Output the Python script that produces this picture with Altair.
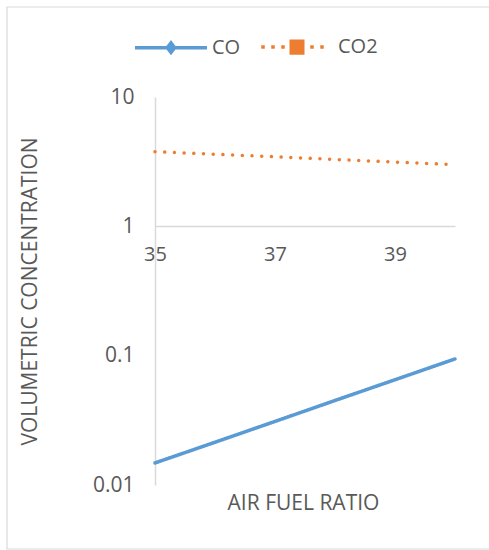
import altair as alt
import pandas as pd

# Air/fuel ratio sweep and measured gas concentrations (volume %)
air_fuel_ratio = [35, 36, 37, 38, 39, 40]
co_values = [0.0148, 0.0214, 0.031, 0.045, 0.0651, 0.0943]
co2_values = [3.78, 3.61, 3.45, 3.29, 3.14, 3.00]

series_names = ["CO", "CO2"]
series_colors = ["#5b9bd5", "#ed7d31"]
y_ticks = [0.01, 0.1, 1, 10]
x_ticks = [35, 37, 39]

rows = []
for name, vals in zip(series_names, [co_values, co2_values]):
    for x, v in zip(air_fuel_ratio, vals):
        rows.append({"ratio": x, "value": v, "gas": name})
df = pd.DataFrame(rows)

FONT = "Open Sans"
TEXT = "#595959"
AXIS = "#d9d9d9"

# legend glyphs: line with a diamond, dotted line with a square
co_symbol = "M-1,0H1M-0.1,0L0,-0.13L0.1,0L0,0.13Z"
co2_symbol = ("M-0.993,0H-0.896M-0.715,0H-0.618M-0.437,0H-0.34"
              "M0.368,0H0.465M0.646,0H0.743"
              "M-0.16,-0.16H0.16V0.16H-0.16Z")

x_enc = alt.X(
    "ratio:Q",
    scale=alt.Scale(domain=[35, 40], nice=False, zero=False),
    axis=alt.Axis(
        values=x_ticks, ticks=False, grid=False, offset=-259,
        domainColor=AXIS, domainWidth=1.5, labelFlush=False,
        labelFontSize=20, labelPadding=18,
        title="AIR FUEL RATIO", titleX=148, titleY=277,
        titleBaseline="middle", titleAlign="center",
    ),
)
y_enc = alt.Y(
    "value:Q",
    scale=alt.Scale(type="log", domain=[0.01, 10], nice=False),
    axis=alt.Axis(
        values=y_ticks, format="~g", ticks=False, grid=False,
        domainColor=AXIS, domainWidth=1.5,
        labelFontSize=21, labelPadding=21,
        title="VOLUMETRIC CONCENTRATION", titleX=-125, titleY=194,
        titleAngle=270, titleBaseline="middle", titleAlign="center",
    ),
)

series_legend = alt.Legend(
    title=None, orient="none", legendX=-22, legendY=-88,
    direction="horizontal", padding=0,
    symbolSize=5184, symbolStrokeWidth=3.5, symbolOpacity=1,
    labelFont=FONT, labelFontSize=20, labelColor=TEXT,
    labelOffset=3, columnPadding=13,
)

frame = alt.Chart(alt.Data(values=[{"f": 1}])).mark_rect(
    fillOpacity=0, stroke=AXIS, strokeWidth=1.2
).encode(
    x=alt.value(-148), x2=alt.value(400), y=alt.value(-90), y2=alt.value(452)
)

# series lines; their scales take the domain from the data
lines = alt.Chart(df).mark_line(strokeWidth=3.5, strokeCap="round").encode(
    x=x_enc,
    y=y_enc,
    color=alt.Color("gas:N", scale=alt.Scale(range=series_colors), legend=None),
    strokeDash=alt.StrokeDash(
        "gas:N",
        scale=alt.Scale(range=[[1, 0], [0.01, 9.7]]),
        legend=None,
    ),
)

# zero-size points that only carry the legend glyphs
keys = alt.Chart(df).mark_point(filled=True, size=0, opacity=1, strokeWidth=3.5).encode(
    x=x_enc,
    y=y_enc,
    fill=alt.Fill("gas:N", scale=alt.Scale(domain=series_names, range=series_colors), legend=series_legend),
    stroke=alt.Stroke("gas:N", scale=alt.Scale(domain=series_names, range=series_colors), legend=series_legend),
    shape=alt.Shape("gas:N", scale=alt.Scale(domain=series_names, range=[co_symbol, co2_symbol]), legend=series_legend),
)

chart = (
    alt.layer(frame, lines, keys)
    .properties(
        width=300, height=388, autosize="none",
        padding={"left": 155, "top": 97, "right": 34, "bottom": 65},
        background="white",
    )
    .configure_view(strokeWidth=0)
    .configure_axis(
        labelFont=FONT, labelColor=TEXT, titleFont=FONT, titleColor=TEXT,
        titleFontSize=21, titleFontWeight="normal",
    )
)

chart.save("out.html", embed_options={"renderer": "svg", "actions": False})
